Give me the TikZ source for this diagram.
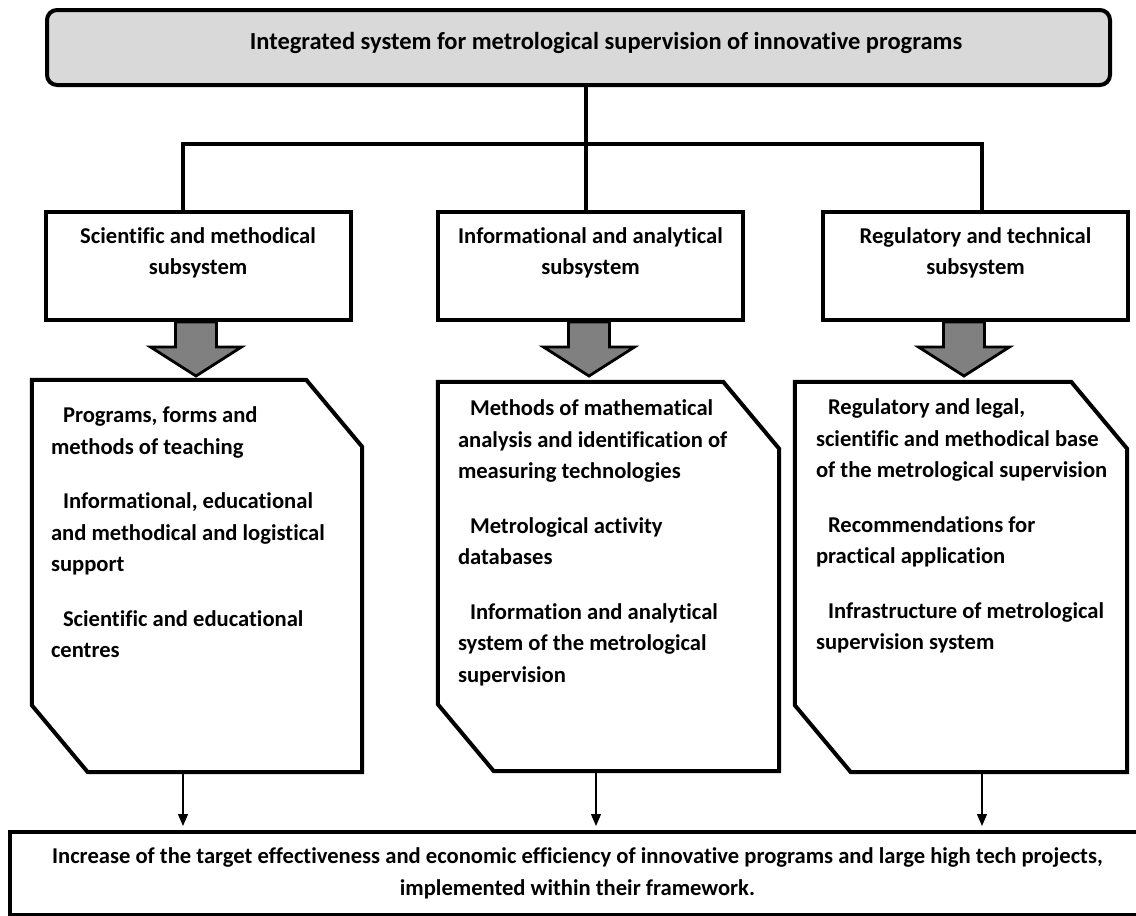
\documentclass[tikz,border=0pt]{standalone}
\usepackage{fontspec}
\setmainfont{Carlito}[Ligatures=NoCommon]
\usetikzlibrary{arrows.meta,positioning}
\newcommand\txtfont{\fontsize{22.6}{31.5}\selectfont\bfseries}
\newcommand\headfont{\fontsize{24.5}{31.5}\selectfont\bfseries}

\begin{document}
\begin{tikzpicture}[x=1pt,y=-1pt,
    boxline/.style={line width=4pt},
    topbox/.style={boxline,draw,fill=black!15,rounded corners=10pt,minimum width=1063pt,minimum height=75pt,inner sep=0pt},
    subbox/.style={boxline,draw,minimum width=305pt,minimum height=108pt,inner sep=0pt},
    listbox/.style={inner sep=0pt},
    subtext/.style={font=\txtfont,align=center,inner sep=0pt},
    listtext/.style={font=\txtfont,align=left,inner sep=0pt,anchor=north west},
    fatarrow/.style={line width=2.8pt,fill=gray},
    thinarrow/.style={line width=1.2pt,-{Triangle[length=12pt,width=10pt]},shorten >=4pt},
    goalbox/.style={boxline,draw,minimum width=1135pt,minimum height=83pt,font=\txtfont,align=center,inner sep=0pt}]
  \useasboundingbox (0,0) rectangle (1136,916);

  % top of the tree
  \node[topbox] (top) at (578.5,47.5) {};
  \node[font=\headfont] (top-text) at (606,43) {Integrated system for metrological supervision of innovative programs};

  \coordinate (bus-l) at (183,144);
  \coordinate (bus-m) at (586,144);
  \coordinate (bus-r) at (982,144);
  \coordinate (out-m) at (596,800);

  % subsystems
  \node[subbox] (sci) at (198,266) {};
  \node[subbox] (inf) at (590.5,266) {};
  \node[subbox] (reg) at (975.5,266) {};
  \node[subtext,below=17pt of sci.north] (sci-text) {Scientific and methodical\\subsystem};
  \node[subtext,below=17pt of inf.north] (inf-text) {Informational and analytical\\subsystem};
  \node[subtext,below=17pt of reg.north] (reg-text) {Regulatory and technical\\subsystem};

  \draw[boxline] (top.south -| bus-m) -- (inf.north -| bus-m);
  \draw[boxline] (sci.north -| bus-l) -- (bus-l) -- (bus-r) -- (reg.north -| bus-r);

  % thick arrows
  \foreach \x in {196,589,964}
    \draw[fatarrow] ({\x-20.5},322) -- ({\x-20.5},347) -- ({\x-45.5},347) -- (\x,376)
      -- ({\x+45.5},347) -- ({\x+20.5},347) -- ({\x+20.5},322) -- cycle;

  % lists
  \node[listbox,minimum width=330pt,minimum height=392pt] (sci-list) at (197,576) {};
  \node[listbox,minimum width=341pt,minimum height=389pt] (inf-list) at (608.5,576.5) {};
  \node[listbox,minimum width=332pt,minimum height=390pt] (reg-list) at (961,577) {};
  \foreach \n in {sci,inf,reg}
    \draw[boxline] (\n-list.north west) -- ([xshift=-56pt]\n-list.north east) -- ([yshift=-67pt]\n-list.north east)
      -- (\n-list.south east) -- ([xshift=56pt]\n-list.south west) -- ([yshift=67pt]\n-list.south west) -- cycle;

  \node[listtext] (sci-items) at ([xshift=19pt,yshift=-27pt]sci-list.north west)
    {\hspace*{12pt}Programs, forms and\\ methods of teaching\\[23pt]
     \hspace*{12pt}Informational, educational\\ and methodical and logistical\\ support\\[23pt]
     \hspace*{12pt}Scientific and educational\\ centres};
  \node[listtext] (inf-items) at ([xshift=20pt,yshift=-18pt]inf-list.north west)
    {\hspace*{12pt}Methods of mathematical\\ analysis and identification of\\ measuring technologies\\[23pt]
     \hspace*{12pt}Metrological activity\\ databases\\[23pt]
     \hspace*{12pt}Information and analytical\\ system of the metrological\\ supervision};
  \node[listtext] (reg-items) at ([xshift=21pt,yshift=-17pt]reg-list.north west)
    {\hspace*{12pt}Regulatory and legal,\\ scientific and methodical base\\ of the metrological supervision\\[23pt]
     \hspace*{12pt}Recommendations for\\ practical application\\[23pt]
     \hspace*{12pt}Infrastructure of metrological\\ supervision system};

  % result
  \node[goalbox] (goal) at (577.5,873.5) {Increase of the target effectiveness and economic efficiency of innovative programs and large high tech projects,\\ implemented within their framework.};

  \draw[thinarrow] (sci-list.south -| bus-l) -- (goal.north -| bus-l);
  \draw[thinarrow] (inf-list.south -| out-m) -- (goal.north -| out-m);
  \draw[thinarrow] (reg-list.south -| bus-r) -- (goal.north -| bus-r);
\end{tikzpicture}
\end{document}
